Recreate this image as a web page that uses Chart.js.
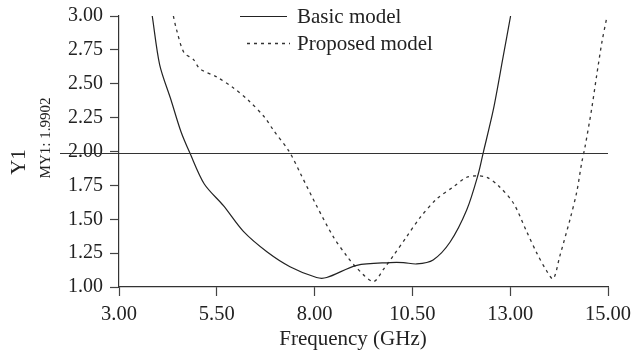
<!DOCTYPE html>
<html>
<head>
<meta charset="utf-8">
<script src="https://cdn.jsdelivr.net/npm/chart.js@4.4.1/dist/chart.umd.min.js"></script>
<style>
html, body { margin: 0; padding: 0; background: #fff; }
#wrap { width: 634px; height: 354px; }
</style>
</head>
<body>
<div id="wrap"><canvas id="vswrChart" width="634" height="354"></canvas></div>
<script>
// Values
const basicFreq = [3.85, 4.04, 4.33, 4.58, 4.81, 5.18, 5.67, 6.18, 6.78, 7.37, 8.05, 8.31, 9.08, 9.93, 10.27, 10.61, 11.03, 11.46, 11.89, 12.18, 12.31, 12.57, 12.82, 13.01];
const basicVswr = [3.00, 2.64, 2.38, 2.15, 1.99, 1.76, 1.60, 1.41, 1.26, 1.15, 1.07, 1.07, 1.16, 1.18, 1.18, 1.17, 1.20, 1.33, 1.57, 1.83, 1.99, 2.31, 2.70, 3.00];

const proposedFreq = [4.39, 4.47, 4.66, 4.90, 5.07, 5.50, 5.92, 6.30, 6.73, 6.94, 7.35, 7.65, 8.05, 8.48, 8.82, 9.08, 9.50, 9.76, 10.01, 10.35, 10.69, 11.12, 11.55, 11.89, 12.14, 12.40, 12.69, 13.08, 13.42, 13.68, 13.93, 14.10, 14.27, 14.53, 14.70, 14.83, 14.91, 15.08, 15.21, 15.34, 15.47];
const proposedVswr = [3.00, 2.90, 2.73, 2.68, 2.61, 2.55, 2.47, 2.38, 2.25, 2.16, 2.00, 1.83, 1.60, 1.37, 1.23, 1.14, 1.04, 1.13, 1.23, 1.37, 1.51, 1.65, 1.74, 1.81, 1.82, 1.81, 1.75, 1.62, 1.41, 1.25, 1.12, 1.06, 1.23, 1.50, 1.70, 1.92, 2.03, 2.31, 2.56, 2.80, 2.99];

// Tick positions and the labels printed under them
const xTickValues = [3, 5.5, 8, 10.5, 13, 15.5];
const xTickLabels = ['3.00', '5.50', '8.00', '10.50', '13.00', '15.00'];
const yTickValues = [1.00, 1.25, 1.50, 1.75, 2.00, 2.25, 2.50, 2.75, 3.00];

const markerY1 = 1.9902;
const seriesNames = ['Basic model', 'Proposed model'];
const xTitle = 'Frequency (GHz)';

const serif = '"Liberation Serif", "Times New Roman", serif';
const ink = '#222';

function toPoints(xs, ys) {
    return xs.map((x, i) => ({ x: x, y: ys[i] }));
}

// Marker line, axis labels and the in-plot legend
const overlayPlugin = {
    id: 'overlay',
    afterDatasetsDraw(chart) {
        const { ctx, chartArea, scales } = chart;
        ctx.save();

        // horizontal marker line, runs over the tick labels like the original
        const my = Math.round(scales.y.getPixelForValue(markerY1)) + 0.5;
        ctx.strokeStyle = '#333';
        ctx.lineWidth = 1.2;
        ctx.beginPath();
        ctx.moveTo(60, my);
        ctx.lineTo(chartArea.right, my);
        ctx.stroke();

        ctx.fillStyle = ink;
        ctx.textAlign = 'center';
        ctx.textBaseline = 'middle';

        // x title, sits a little left of centre in the original
        ctx.font = '21px ' + serif;
        ctx.fillText(xTitle, 353, 339);

        // rotated y labels
        ctx.save();
        ctx.translate(19, 162);
        ctx.rotate(-Math.PI / 2);
        ctx.font = '21px ' + serif;
        ctx.fillText('Y1', 0, 0);
        ctx.restore();
        ctx.save();
        ctx.translate(46, 138);
        ctx.rotate(-Math.PI / 2);
        ctx.font = '15px ' + serif;
        ctx.fillText('MY1: ' + markerY1.toFixed(4), 0, 0);
        ctx.restore();

        // legend
        const rows = [
            { x0: 240, x1: 287, y: 16 },
            { x0: 247, x1: 290, y: 43 }
        ];
        chart.data.datasets.forEach((ds, i) => {
            const r = rows[i];
            ctx.strokeStyle = ds.borderColor;
            ctx.lineWidth = ds.borderWidth;
            ctx.setLineDash(ds.borderDash || []);
            ctx.beginPath();
            ctx.moveTo(r.x0, r.y + 0.5);
            ctx.lineTo(r.x1, r.y + 0.5);
            ctx.stroke();
            ctx.setLineDash([]);
            ctx.font = '21px ' + serif;
            ctx.textAlign = 'left';
            ctx.fillStyle = ink;
            ctx.fillText(ds.label, 297, r.y + 1);
        });
        ctx.restore();
    }
};

const ctx = document.getElementById('vswrChart').getContext('2d');
const vswrChart = new Chart(ctx, {
    type: 'line',
    data: {
        datasets: [{
            label: seriesNames[0],
            data: toPoints(basicFreq, basicVswr),
            borderColor: ink,
            borderWidth: 1.2,
            pointRadius: 0,
            tension: 0.3,
            fill: false
        }, {
            label: seriesNames[1],
            data: toPoints(proposedFreq, proposedVswr),
            borderColor: '#333',
            borderWidth: 1.3,
            borderDash: [3, 4],
            pointRadius: 0,
            tension: 0.3,
            fill: false
        }]
    },
    options: {
        responsive: false,
        animation: false,
        layout: { padding: { top: 16, right: 26, left: 0, bottom: 0 } },
        plugins: {
            legend: { display: false },
            tooltip: { enabled: false }
        },
        scales: {
            x: {
                type: 'linear',
                min: 3,
                max: 15.5,
                afterFit: scale => {
                    scale.height = 67;
                    // let layout.padding alone decide the plot edges
                    scale.paddingLeft = 0;
                    scale.paddingRight = 0;
                },
                afterBuildTicks: scale => {
                    scale.ticks = xTickValues.map(v => ({ value: v }));
                },
                ticks: {
                    color: ink,
                    font: { family: serif, size: 20.5 },
                    padding: 6,
                    maxRotation: 0,
                    callback: (value, index) => xTickLabels[index]
                },
                grid: {
                    drawOnChartArea: false,
                    tickLength: 9,
                    tickColor: '#444',
                    tickWidth: 1.2
                },
                border: { color: '#333', width: 1.2 }
            },
            y: {
                min: 1,
                max: 3,
                afterFit: scale => {
                    scale.width = 119;
                    scale.paddingTop = 0;
                    scale.paddingBottom = 0;
                },
                afterBuildTicks: scale => {
                    scale.ticks = yTickValues.map(v => ({ value: v }));
                },
                ticks: {
                    color: ink,
                    font: { family: serif, size: 20 },
                    padding: 7,
                    callback: value => value.toFixed(2)
                },
                grid: {
                    drawOnChartArea: false,
                    tickLength: 9,
                    tickColor: '#444',
                    tickWidth: 1.2
                },
                border: { color: '#333', width: 1.2 }
            }
        }
    },
    plugins: [overlayPlugin]
});
</script>
</body>
</html>
